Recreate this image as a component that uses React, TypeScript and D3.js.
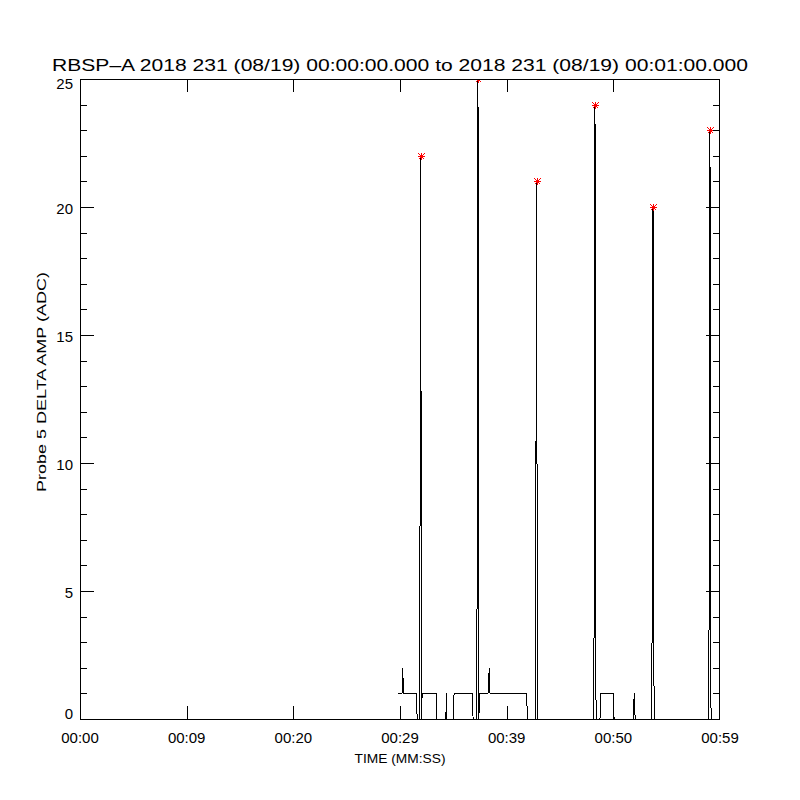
import React from "react";
import * as d3 from "d3";

// ---- data (seconds from 00:00:00, ADC values) ----
const sampleTimes = [
  29.79, 30.19, 30.25, 30.33, 31.52, 31.56, 31.62, 31.80, 31.86, 31.94, 31.96, 32.04, 32.07,
  33.38, 33.43, 34.30, 34.35, 34.40, 34.97, 35.02, 35.07, 36.80, 36.85, 37.13, 37.22, 37.31, 37.38, 37.50,
  38.25, 38.31, 38.37, 38.44, 41.86, 41.91, 41.96, 42.66, 42.72, 42.80, 42.82, 42.90,
  48.14, 48.21, 48.28, 48.30, 48.38, 48.75, 48.78, 50.00, 50.03, 50.07,
  51.90, 51.95, 52.00, 52.05, 53.58, 53.65, 53.72, 53.74, 53.82,
  58.92, 59.00, 59.06, 59.08, 59.16, 60.0,
];
const sampleValues = [
  1, 1, 2, 1, 1, 0.5, 0, 0, 3.5, 22, 14.5, 0, 1,
  1, 0, 0, 1, 0, 0, 0.5, 1, 1, 0, 0, 4, 25, 0, 1,
  1, 1.5, 2, 1, 1, 0.5, 0, 0, 4, 21, 14.5, 0,
  0, 4.5, 24, 14.5, 0, 0, 1, 1, 0.5, 0,
  0, 1, 0.5, 0, 0, 4.5, 20, 14.5, 0,
  0, 5.5, 23, 13, 0, 0,
];

const peakTimes = [31.94, 37.31, 42.80, 48.28, 53.72, 59.06];
const peakValues = [22, 25, 21, 24, 20, 23];

const xTickValues = [0, 10, 20, 30, 40, 50, 60];
const xTickLabels = ["00:00", "00:09", "00:20", "00:29", "00:39", "00:50", "00:59"];
const yMajorTicks = [0, 5, 10, 15, 20, 25];
const yMinorTicks = d3.range(0, 26, 1).filter((v) => v % 5 !== 0);

const titleText =
  "RBSP\u2013A 2018 231 (08/19) 00:00:00.000 to 2018 231 (08/19) 00:01:00.000";
const xTitle = "TIME (MM:SS)";
const yTitle = "Probe 5 DELTA AMP (ADC)";

export default function App() {
  const W = 800;
  const H = 800;
  const left = 80;
  const right = 720;
  const top = 79;
  const bottom = 719;
  const font = "'Liberation Sans', Arial, sans-serif";

  const x = d3.scaleLinear().domain([0, 60]).range([left, right]);
  const y = d3.scaleLinear().domain([0, 25]).range([bottom, top]);

  const pts: [number, number][] = sampleTimes.map((t, i) => [t, sampleValues[i]]);
  const line = d3
    .line<[number, number]>()
    .x((d) => x(d[0]))
    .y((d) => y(d[1]));

  const majorLen = 13;
  const minorLen = 6;
  const r = 3.5;

  return (
    <svg
      width={W}
      height={H}
      style={{ position: "absolute", left: 0, top: 0, background: "#fff" }}
    >
      <rect x={0} y={0} width={W} height={H} fill="#fff" />
      <defs>
        <clipPath id="plotclip">
          <rect x={left} y={top} width={right - left} height={bottom - top} />
        </clipPath>
      </defs>
      <text
        x={52}
        y={71}
        fontFamily={font}
        fontSize={17}
        textLength={696}
        lengthAdjust="spacingAndGlyphs"
        fill="#000"
      >
        {titleText}
      </text>

      {/* data */}
      <g clipPath="url(#plotclip)">
        <path d={line(pts) || ""} fill="none" stroke="#000" strokeWidth={1} shapeRendering="crispEdges" />
        {peakTimes.map((t, i) => {
          const cx = Math.round(x(t)) + 0.5;
          const cy = Math.round(y(peakValues[i])) + 0.5;
          return (
            <g key={i} stroke="#ff0000" strokeWidth={1} shapeRendering="crispEdges">
              <line x1={cx - r} y1={cy} x2={cx + r} y2={cy} />
              <line x1={cx} y1={cy - r} x2={cx} y2={cy + r} />
              <line x1={cx - r + 0.5} y1={cy - r + 0.5} x2={cx + r - 0.5} y2={cy + r - 0.5} />
              <line x1={cx - r + 0.5} y1={cy + r - 0.5} x2={cx + r - 0.5} y2={cy - r + 0.5} />
            </g>
          );
        })}
      </g>

      {/* frame */}
      <rect
        x={left + 0.5}
        y={top + 0.5}
        width={right - left - 1}
        height={bottom - top}
        fill="none"
        stroke="#000"
        strokeWidth={1}
        shapeRendering="crispEdges"
      />

      {/* ticks */}
      <g stroke="#000" strokeWidth={1} shapeRendering="crispEdges">
        {xTickValues.map((v, i) => {
          const px = Math.min(Math.round(x(v)), right - 1) + 0.5;
          return (
            <g key={i}>
              <line x1={px} y1={bottom} x2={px} y2={bottom - majorLen} />
              <line x1={px} y1={top} x2={px} y2={top + majorLen} />
            </g>
          );
        })}
        {yMajorTicks.map((v, i) => {
          const py = Math.round(y(v)) + 0.5;
          return (
            <g key={i}>
              <line x1={left} y1={py} x2={left + majorLen + 1} y2={py} />
              <line x1={right} y1={py} x2={right - majorLen - 1} y2={py} />
            </g>
          );
        })}
        {yMinorTicks.map((v, i) => {
          const py = Math.round(y(v)) + 0.5;
          return (
            <g key={i}>
              <line x1={left} y1={py} x2={left + minorLen + 1} y2={py} />
              <line x1={right} y1={py} x2={right - minorLen - 1} y2={py} />
            </g>
          );
        })}
      </g>

      {/* tick labels */}
      {xTickValues.map((v, i) => (
        <text
          key={i}
          x={x(v)}
          y={743}
          fontFamily={font}
          fontSize={15}
          textAnchor="middle"
          fill="#000"
        >
          {xTickLabels[i]}
        </text>
      ))}
      {yMajorTicks.map((v, i) => {
        const base = Math.min(Math.max(y(v) + 7, top + 10), bottom);
        return (
          <text
            key={i}
            x={73}
            y={base}
            fontFamily={font}
            fontSize={15}
            textAnchor="end"
            fill="#000"
          >
            {v}
          </text>
        );
      })}

      {/* axis titles */}
      <text
        x={400}
        y={763}
        fontFamily={font}
        fontSize={13}
        textAnchor="middle"
        textLength={91}
        lengthAdjust="spacingAndGlyphs"
        fill="#000"
      >
        {xTitle}
      </text>
      <text
        transform={`translate(46, 382) rotate(-90)`}
        fontFamily={font}
        fontSize={13}
        textAnchor="middle"
        textLength={220}
        lengthAdjust="spacingAndGlyphs"
        fill="#000"
      >
        {yTitle}
      </text>
    </svg>
  );
}
